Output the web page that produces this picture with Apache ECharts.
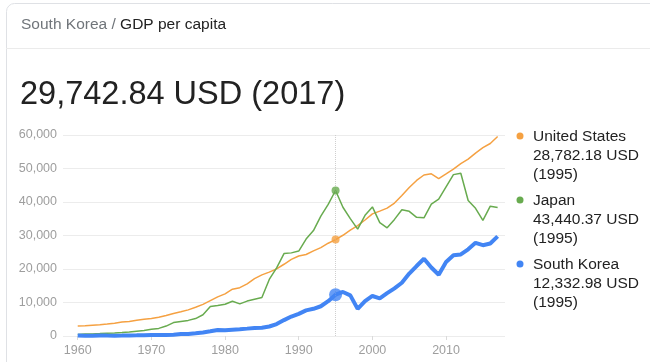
<!DOCTYPE html>
<html>
<head>
<meta charset="utf-8">
<script src="https://cdn.jsdelivr.net/npm/echarts@6/dist/echarts.min.js"></script>
<style>
html,body{margin:0;padding:0;background:#fff;}
#c{width:650px;height:362px;}
</style>
</head>
<body>
<div id="c"></div>
<script>
const years = [1960,1961,1962,1963,1964,1965,1966,1967,1968,1969,1970,1971,1972,1973,1974,1975,1976,1977,1978,1979,1980,1981,1982,1983,1984,1985,1986,1987,1988,1989,1990,1991,1992,1993,1994,1995,1996,1997,1998,1999,2000,2001,2002,2003,2004,2005,2006,2007,2008,2009,2010,2011,2012,2013,2014,2015,2016,2017];
const unitedStates = [3007,3067,3244,3375,3574,3828,4146,4336,4696,5032,5234,5609,6094,6726,7226,7801,8592,9453,10565,11674,12575,13976,14434,15544,17121,18237,19071,20039,21417,22857,23889,24342,25419,26387,27695,28782.18,30068,31573,32949,34621,36450,37274,38166,39677,41922,44308,46437,48062,48401,47002,48374,49790,51450,52787,54599,56207,57467,59532];
const japan = [479,563,633,717,835,919,1058,1229,1451,1669,2037,2272,2967,3997,4354,4659,5197,6335,8821,9105,9463,10361,9578,10425,10984,11465,16882,20355,24593,24813,25359,28925,31465,35766,39269,43440.37,38437,35022,31903,36027,38532,33846,32289,34808,37689,37218,35434,35275,39339,40855,44508,48168,48603,40454,38109,34524,38761,38387];
const southKorea = [158,94,106,146,124,108,133,161,198,243,279,301,324,406,563,617,834,1055,1400,1784,1715,1883,1993,2199,2413,2482,2835,3555,4749,5817,6610,7637,8127,8885,10385,12332.98,13138,12131,8085,10409,11948,11253,12789,14209,15908,18640,20888,23061,20431,18292,22087,24080,24359,25890,27811,27105,27608,29742.84];
const seriesNames = ['United States','Japan','South Korea'];
const yTicks = [0,10000,20000,30000,40000,50000,60000];
const highlightYear = 1995;
const latestYear = 2017;
const country = 'South Korea';
const indicator = 'GDP per capita';

const colors = ['#f5a142','#68ab4f','#4285f4'];
const widths = [1.5,1.5,4];
const allSeries = [unitedStates, japan, southKorea];

const axisMin = 1958, axisMax = 2018;
const cats = [];
for (let y = axisMin; y <= axisMax; y++) cats.push(String(y));

const fmt = v => v.toLocaleString('en-US',{minimumFractionDigits:2,maximumFractionDigits:2});
const hi = years.indexOf(highlightYear);
const li = years.indexOf(latestYear);

const FONT = '"Liberation Sans", Arial, sans-serif';

const series = [];
allSeries.forEach((arr, k) => {
  series.push({
    name: seriesNames[k],
    type: 'line',
    data: years.map((y, i) => [String(y), arr[i]]),
    showSymbol: false,
    lineStyle: {color: colors[k], width: widths[k]},
    itemStyle: {color: colors[k]},
    z: 2 + k,
    silent: true,
    animation: false,
    markLine: k === 0 ? {
      silent: true, symbol: 'none', animation: false,
      label: {show: false},
      lineStyle: {color: '#cfcfcf', type: 'dotted', width: 1},
      data: [{xAxis: String(highlightYear)}]
    } : undefined
  });
});
allSeries.forEach((arr, k) => {
  series.push({
    type: 'scatter',
    data: [[String(highlightYear), arr[hi]]],
    symbolSize: k === 2 ? 13 : 8,
    itemStyle: {color: colors[k]},
    z: 10,
    silent: true,
    animation: false
  });
});

const graphic = [
  {type:'rect', shape:{x:6.5,y:3.5,width:700,height:420,r:8}, style:{fill:'none',stroke:'#dfe1e5',lineWidth:1}, z:-1},
  {type:'line', shape:{x1:6,y1:48.5,x2:650,y2:48.5}, style:{stroke:'#ebebeb',lineWidth:1}},
  {type:'text', x:21, y:25, style:{text:'{a|'+country+'}{b| / }{c|'+indicator+'}', verticalAlign:'middle',
    rich:{a:{fill:'#70757a',font:'15.5px '+FONT},b:{fill:'#70757a',font:'15.5px '+FONT},c:{fill:'#222222',font:'15.5px '+FONT}}}},
  {type:'text', x:20, y:95, style:{text: fmt(southKorea[li])+' USD ('+latestYear+')', verticalAlign:'middle', fill:'#222222', font:'32.5px '+FONT}}
];
seriesNames.forEach((n, k) => {
  const top = 127 + k * 64;
  graphic.push({type:'circle', shape:{cx:520, cy:top+9, r:3.5}, style:{fill:colors[k]}});
  graphic.push({type:'text', x:533, y:top, style:{text: n+'\n'+fmt(allSeries[k][hi])+' USD\n('+highlightYear+')', verticalAlign:'top', fill:'#222222', font:'15.5px '+FONT, lineHeight:19}});
});

const chart = echarts.init(document.getElementById('c'), null, {renderer:'canvas'});
chart.setOption({
  animation: false,
  grid: {left:63, right:145, top:135, bottom:26, containLabel:false},
  xAxis: {
    type:'category', data:cats, boundaryGap:false,
    axisLine:{show:false},
    axisTick:{show:true, length:4, lineStyle:{color:'#dadada'}, interval:(i,v)=>(+v)%10===0},
    axisLabel:{interval:(i,v)=>(+v)%10===0, color:'#9e9e9e', fontSize:12.5, fontFamily:FONT, margin:8},
    splitLine:{show:false}
  },
  yAxis: {
    type:'value', min:yTicks[0], max:yTicks[yTicks.length-1], interval:yTicks[1]-yTicks[0],
    axisLine:{show:false}, axisTick:{show:false},
    axisLabel:{color:'#9e9e9e', fontSize:12.5, fontFamily:FONT, margin:6, formatter:v=>v.toLocaleString('en-US')},
    splitLine:{lineStyle:{color:'#ececec', width:1}}
  },
  series: series,
  graphic: graphic
});
</script>
</body>
</html>
